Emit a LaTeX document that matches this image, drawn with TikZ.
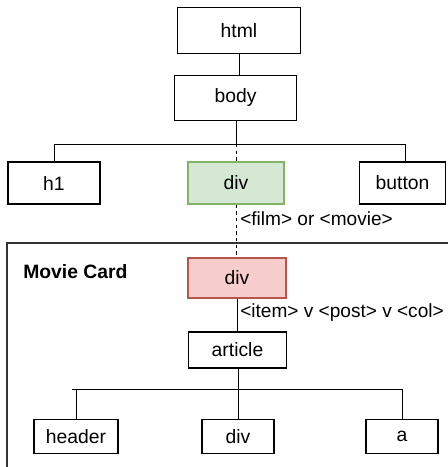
\documentclass[tikz,border=0pt]{standalone}
\usepackage{fontspec}
\setmainfont{Liberation Sans}
\usepackage{xcolor}
\usepackage{tikz}
\definecolor{filmfill}{HTML}{D5E8D4}
\definecolor{filmline}{HTML}{82B366}
\definecolor{cardfill}{HTML}{F8CECC}
\definecolor{cardline}{HTML}{B85450}
\definecolor{frameline}{HTML}{333333}
\tikzset{
    tag/.style={draw, line width=0.8pt, font=\fontsize{14.5}{17}\selectfont, inner sep=0pt},
    tagwide/.style={tag, minimum width=92pt, minimum height=34pt},
    tagrow/.style={tag, minimum height=31.5pt},
    tagsmall/.style={tag, minimum height=26pt},
    film/.style={tagrow, fill=filmfill, draw=filmline},
    card/.style={tag, fill=cardfill, draw=cardline, minimum width=73.5pt, minimum height=30pt},
    link/.style={line width=0.75pt},
    maybe/.style={link, dash pattern=on 2.5pt off 2.5pt},
    linklabel/.style={anchor=west, inner sep=0pt, font=\fontsize{14.3}{17}\selectfont}
}
\begin{document}
\begin{tikzpicture}[x=0.75pt, y=-0.75pt]
\useasboundingbox (0,0) rectangle (448,467);
\clip (0,0) rectangle (448,467);

% Page tree
\node[tagwide] (html) at (239,30.5) {html};
\node[tagwide] (body) at (235.5,98) {body};
\draw[link] (html.south) -- (html.south |- body.north);

\node[tagrow, minimum width=69pt] (h1) at (54,183) {h1};
\node[film, minimum width=72pt] (div) at (236,183) {div};
\node[tagrow, minimum width=65pt] (button) at (402.5,183) {button};

\coordinate (fork) at (236,144);
\draw[link] (body.south -| fork) -- (fork);
\draw[link] (fork) -| (h1.north);
\draw[link] (fork) -| ([xshift=2pt]button.north);
\draw[maybe] (fork) -- (div.north -| fork);

% Movie card frame
\draw[frameline, line width=0.8pt] (7,243) rectangle (470,490);
\node[anchor=west, inner sep=0pt, font=\fontsize{14.5}{17}\selectfont\bfseries] (title) at (23,272) {Movie Card};

\node[card] (card) at (237,278) {div};
\draw[maybe] (div.south -| fork) -- (card.north -| fork);
\node[linklabel] (filmlabel) at (240,219) {<film> or <movie>};

\node[tag, minimum width=73pt, minimum height=27pt] (article) at (237.5,350) {article};
\draw[link] (card.south -| article) -- (article.north);
\node[linklabel] (itemlabel) at (240,313) {<item> v <post> v <col>};

% Card children
\coordinate (split) at (238,389);
\coordinate (splitleft) at (72,389);
\draw[link] (article.south -| split) -- (split);
\foreach \name/\x/\w/\txt in {header/76/63/header, inner/238/54/div, link/402/54/a} {
    \node[tagsmall, minimum width=\w pt] (\name) at (\x,436.5) {\txt};
    \draw[link] (split -| \name) -- (\name.north);
}
\draw[link] (splitleft) -- (split -| link);
\end{tikzpicture}
\end{document}
